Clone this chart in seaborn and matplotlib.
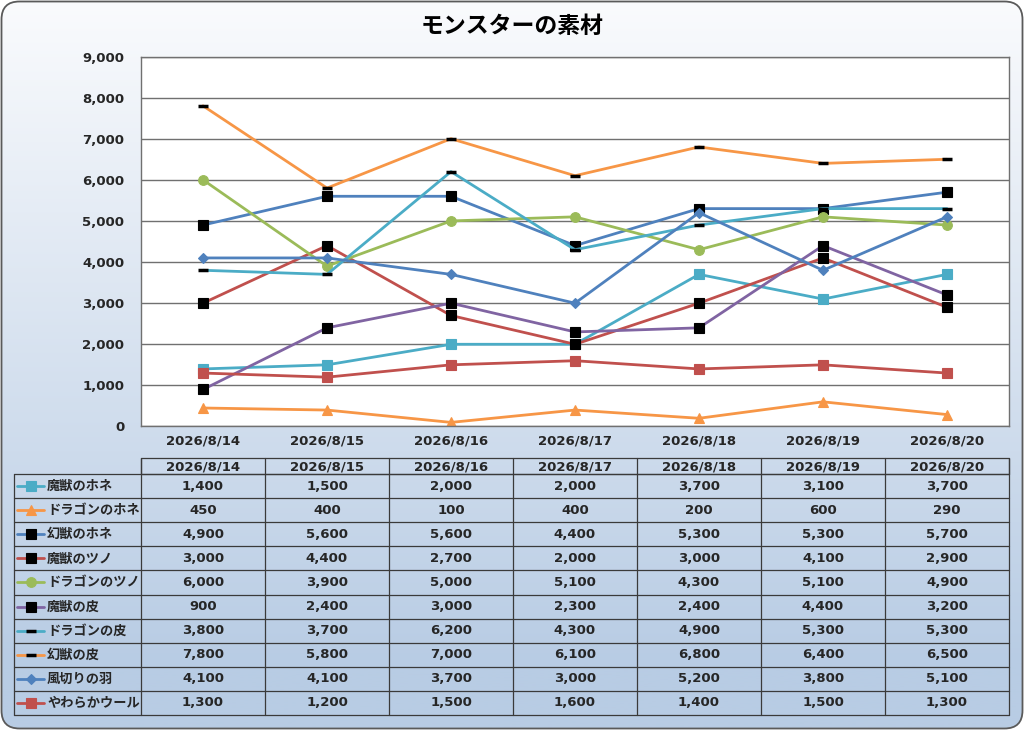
import numpy as np
import pandas as pd
import matplotlib
matplotlib.use("Agg")
import matplotlib.pyplot as plt
import seaborn as sns
from matplotlib.patches import FancyBboxPatch, Rectangle
from matplotlib.lines import Line2D

# ---------------- data ----------------
dates = ["2026/8/14", "2026/8/15", "2026/8/16", "2026/8/17", "2026/8/18", "2026/8/19", "2026/8/20"]
series_names = ["魔獣のホネ", "ドラゴンのホネ", "幻獣のホネ", "魔獣のツノ", "ドラゴンのツノ",
                "魔獣の皮", "ドラゴンの皮", "幻獣の皮", "風切りの羽", "やわらかウール"]
mazyu_hone = [1400, 1500, 2000, 2000, 3700, 3100, 3700]
dragon_hone = [450, 400, 100, 400, 200, 600, 290]
genju_hone = [4900, 5600, 5600, 4400, 5300, 5300, 5700]
mazyu_tsuno = [3000, 4400, 2700, 2000, 3000, 4100, 2900]
dragon_tsuno = [6000, 3900, 5000, 5100, 4300, 5100, 4900]
mazyu_kawa = [900, 2400, 3000, 2300, 2400, 4400, 3200]
dragon_kawa = [3800, 3700, 6200, 4300, 4900, 5300, 5300]
genju_kawa = [7800, 5800, 7000, 6100, 6800, 6400, 6500]
kazakiri_hane = [4100, 4100, 3700, 3000, 5200, 3800, 5100]
yawaraka_wool = [1300, 1200, 1500, 1600, 1400, 1500, 1300]
values = [mazyu_hone, dragon_hone, genju_hone, mazyu_tsuno, dragon_tsuno,
          mazyu_kawa, dragon_kawa, genju_kawa, kazakiri_hane, yawaraka_wool]
yticks = list(range(0, 9001, 1000))

# ---------------- styles ----------------
TEAL, ORANGE, BLUE, RED, GREEN, PURPLE = "#4bacc6", "#f79646", "#4f81bd", "#c0504d", "#9bbb59", "#8064a2"
styles = [
    dict(color=TEAL, marker="s", mfc=TEAL, mec=TEAL, ms=7, mew=0.8),
    dict(color=ORANGE, marker="^", mfc=ORANGE, mec=ORANGE, ms=7.5, mew=0.8),
    dict(color=BLUE, marker="s", mfc="black", mec="black", ms=7, mew=0.8),
    dict(color=RED, marker="s", mfc="black", mec="black", ms=7, mew=0.8),
    dict(color=GREEN, marker="o", mfc=GREEN, mec=GREEN, ms=7, mew=0.8),
    dict(color=PURPLE, marker="s", mfc="black", mec="black", ms=7, mew=0.8),
    dict(color=TEAL, marker="_", mfc="black", mec="black", ms=7, mew=2.5),
    dict(color=ORANGE, marker="_", mfc="black", mec="black", ms=7, mew=2.5),
    dict(color=BLUE, marker="D", mfc=BLUE, mec=BLUE, ms=5, mew=0.8),
    dict(color=RED, marker="s", mfc=RED, mec=RED, ms=7.5, mew=0.8),
]

sns.set_theme(style="white")
plt.rcParams["font.family"] = ["Noto Sans CJK JP", "DejaVu Sans"]
NUM_FONT = ["DejaVu Sans", "Noto Sans CJK JP"]

W, H = 1024, 730
fig = plt.figure(figsize=(W / 100, H / 100), dpi=100)
fig.patch.set_facecolor("white")

# background with gradient and rounded border
bg = fig.add_axes([0, 0, 1, 1], zorder=-2)
bg.set_xlim(0, W)
bg.set_ylim(H, 0)
bg.axis("off")
top_c = np.array([0xfa, 0xfb, 0xfd]) / 255
bot_c = np.array([0xb8, 0xcc, 0xe4]) / 255
grad = np.clip(np.linspace(0, 1.1, 256), 0, 1)[:, None, None]
img = top_c[None, None, :] * (1 - grad) + bot_c[None, None, :] * grad
frame = FancyBboxPatch((1.5, 1.5), W - 3, H - 3, boxstyle="round,pad=0,rounding_size=18",
                       facecolor="none", edgecolor="#5a5a5a", linewidth=1.3)
bg.add_patch(frame)
im = bg.imshow(img, extent=[0, W, H, 0], aspect="auto", zorder=0)
im.set_clip_path(frame)

# main plot
px = lambda x0, y0, x1, y1: [x0 / W, 1 - y1 / H, (x1 - x0) / W, (y1 - y0) / H]
ax = fig.add_axes(px(141, 56.5, 1009, 426.5))
ax.set_facecolor("white")
xs = list(range(len(dates)))
for name, vals, st in zip(series_names, values, styles):
    sns.lineplot(x=xs, y=vals, ax=ax, color=st["color"], linewidth=2.0,
                 marker=st["marker"], markersize=st["ms"], markerfacecolor=st["mfc"],
                 markeredgecolor=st["mec"], markeredgewidth=st["mew"], label=None)
ax.set_xlim(-0.5, len(dates) - 0.5)
ax.set_ylim(0, 9000)
ax.set_yticks(yticks)
ax.set_yticklabels([f"{v:,}" for v in yticks], fontsize=9.5, fontweight="bold", family=NUM_FONT)
ax.set_xticks(xs)
ax.set_xticklabels(dates, fontsize=9.5, fontweight="bold", family=NUM_FONT)
ax.tick_params(axis="y", length=0, pad=12)
ax.tick_params(axis="x", length=0, pad=6)
ax.yaxis.grid(True, color="#707070", linewidth=1.0)
ax.set_axisbelow(True)
for sp in ax.spines.values():
    sp.set_color("#707070")
    sp.set_linewidth(1.0)
ax.set_xlabel("")
ax.set_ylabel("")
if ax.get_legend():
    ax.get_legend().remove()

fig.text(512 / W, 1 - 26 / H, "モンスターの素材", ha="center", va="center",
         fontsize=16.5, fontweight="bold", color="black")

# data table (overlay in pixel space)
ov = fig.add_axes([0, 0, 1, 1], zorder=5)
ov.set_xlim(0, W)
ov.set_ylim(H, 0)
ov.axis("off")
ov.patch.set_alpha(0)
col_x0, col_w = 141, 124.0
lab_x0 = 14
hdr_top, hdr_bot = 458, 474
row_h = 24.1
lc = "#3a3a3a"
n_rows = len(series_names)
tbl_bot = hdr_bot + row_h * n_rows
# header cells
ov.add_patch(Rectangle((col_x0, hdr_top), col_w * len(dates), hdr_bot - hdr_top,
                       fill=False, edgecolor=lc, linewidth=0.9))
for j, d in enumerate(dates):
    ov.text(col_x0 + col_w * (j + 0.5), (hdr_top + hdr_bot) / 2 + 0.5, d, ha="center", va="center",
            fontsize=9.5, fontweight="bold", family=NUM_FONT)
# vertical lines
for j in range(len(dates) + 1):
    x = col_x0 + col_w * j
    ov.plot([x, x], [hdr_top, tbl_bot], color=lc, linewidth=0.9)
ov.plot([lab_x0, lab_x0], [hdr_bot, tbl_bot], color=lc, linewidth=0.9)
# horizontal lines
for i in range(n_rows + 1):
    y = hdr_bot + row_h * i
    ov.plot([lab_x0, col_x0 + col_w * len(dates)], [y, y], color=lc, linewidth=0.9)
# rows
for i, (name, vals, st) in enumerate(zip(series_names, values, styles)):
    yc = hdr_bot + row_h * (i + 0.5)
    ov.add_line(Line2D([17, 44], [yc, yc], color=st["color"], linewidth=2.0))
    ov.add_line(Line2D([30.5], [yc], marker=st["marker"], markersize=st["ms"],
                       markerfacecolor=st["mfc"], markeredgecolor=st["mec"],
                       markeredgewidth=st["mew"], linestyle="none"))
    ov.text(47, yc, name, ha="left", va="center", fontsize=9.5, fontweight="bold")
    for j, v in enumerate(vals):
        ov.text(col_x0 + col_w * (j + 0.5), yc, f"{v:,}", ha="center", va="center",
                fontsize=9.5, fontweight="bold", family=NUM_FONT)

fig.savefig("out.png", dpi=100)
